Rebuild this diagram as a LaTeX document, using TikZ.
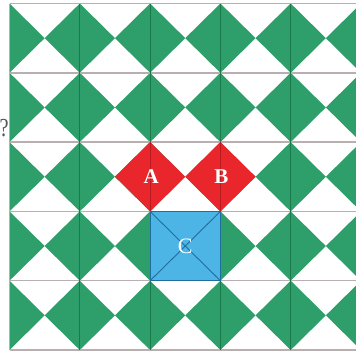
\documentclass[tikz,border=0pt]{standalone}
\usepackage{fontspec}
\setmainfont{Liberation Serif}
\definecolor{tilegreen}{HTML}{2E9F6A}
\definecolor{seamgreen}{HTML}{1B7A4C}
\definecolor{gridgray}{HTML}{B9AFB1}
\definecolor{tilered}{HTML}{E8262B}
\definecolor{seamred}{HTML}{B81A1F}
\definecolor{tileblue}{HTML}{4DB5E6}
\definecolor{seamblue}{HTML}{1F6E9E}
\definecolor{markgray}{HTML}{555555}
\tikzset{
  hline/.style={draw=gridgray, line width=1.4pt},
  vline/.style={draw=seamgreen, line width=0.9pt},
  tag/.style={text=white, font=\fontsize{21}{21}\selectfont\bfseries, inner sep=0pt},
}
\begin{document}
\begin{tikzpicture}[x=1pt,y=-1pt]
\useasboundingbox (0,0) rectangle (356,354);
\clip (0,0) rectangle (356,354);
\fill[white] (0,0) rectangle (356,354);
\def\cw{70.3}
\def\ch{69.3}
\def\xo{9.5}
\def\yo{3.5}
% green left/right triangles of every tile
\foreach \i in {0,...,4} {
  \foreach \j in {0,...,4} {
    \pgfmathsetmacro\xl{\xo+\i*\cw}
    \pgfmathsetmacro\xr{\xo+(\i+1)*\cw}
    \pgfmathsetmacro\xm{\xo+(\i+0.5)*\cw}
    \pgfmathsetmacro\yt{\yo+\j*\ch}
    \pgfmathsetmacro\yb{\yo+(\j+1)*\ch}
    \pgfmathsetmacro\ym{\yo+(\j+0.5)*\ch}
    \fill[tilegreen] (\xl,\yt) -- (\xm,\ym) -- (\xl,\yb) -- cycle;
    \fill[tilegreen] (\xr,\yt) -- (\xm,\ym) -- (\xr,\yb) -- cycle;
  }
}
% grid lines
\foreach \j in {0,...,5} {
  \pgfmathsetmacro\yy{\yo+\j*\ch}
  \draw[hline] (\xo,\yy) -- (360,\yy);
}
\draw[draw=gridgray, line width=0.8pt] (\xo,\yo) -- (\xo,{\yo+5*\ch});
\foreach \i in {1,...,4} {
  \pgfmathsetmacro\xx{\xo+\i*\cw}
  \draw[vline] (\xx,\yo) -- (\xx,{\yo+5*\ch});
}
% red diamonds A and B
\foreach \k in {2,3} {
  \pgfmathsetmacro\cx{\xo+\k*\cw}
  \pgfmathsetmacro\cy{\yo+2.5*\ch}
  \fill[tilered] (\cx,{\cy-\ch/2}) -- ({\cx+\cw/2},\cy) -- (\cx,{\cy+\ch/2}) -- ({\cx-\cw/2},\cy) -- cycle;
  \draw[draw=seamred, line width=0.9pt] (\cx,{\cy-\ch/2}) -- (\cx,{\cy+\ch/2});
}
% blue square C
\coordinate (c1) at ({\xo+2*\cw},{\yo+3*\ch});
\coordinate (c2) at ({\xo+3*\cw},{\yo+3*\ch});
\coordinate (c3) at ({\xo+3*\cw},{\yo+4*\ch});
\coordinate (c4) at ({\xo+2*\cw},{\yo+4*\ch});
\fill[tileblue] (c1) -- (c2) -- (c3) -- (c4) -- cycle;
\draw[draw=seamblue, line width=0.9pt] (c1) -- (c3) (c2) -- (c4);
\draw[draw=seamblue, line width=0.9pt] (c1) -- (c2) -- (c3) -- (c4) -- cycle;
% labels
\node[tag] (la) at ({\xo+2*\cw+1},{\yo+2.5*\ch-0.5}) {A};
\node[tag] (lb) at ({\xo+3*\cw+1},{\yo+2.5*\ch-0.5}) {B};
\node[tag, font=\fontsize{22}{22}\selectfont] (lc) at ({\xo+2.5*\cw},{\yo+3.5*\ch}) {C};
\node[text=markgray, font=\fontsize{26}{26}\selectfont, anchor=east, inner sep=0pt] (q) at (8.8,128) {\scalebox{0.78}[1]{?}};
\end{tikzpicture}
\end{document}
